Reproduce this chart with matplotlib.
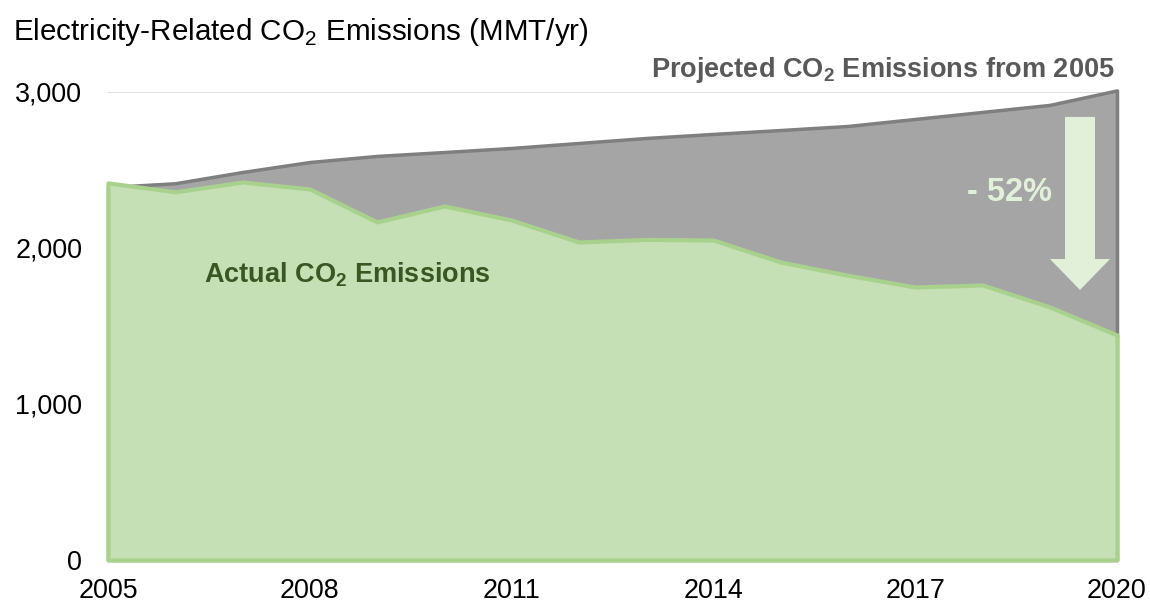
import matplotlib
matplotlib.use("Agg")
import matplotlib.pyplot as plt

plt.rcParams['font.family'] = ['Liberation Sans', 'DejaVu Sans']
plt.rcParams['mathtext.fontset'] = 'custom'
plt.rcParams['mathtext.rm'] = 'Liberation Sans'
plt.rcParams['mathtext.bf'] = 'Liberation Sans:bold'

# Data (MMT CO2 per year)
years = list(range(2005, 2021))
actual = [2417, 2360, 2423, 2378, 2167, 2269, 2179, 2038, 2055, 2051,
          1910, 1825, 1750, 1763, 1622, 1442]
projected = [2390, 2415, 2487, 2551, 2590, 2615, 2641, 2673, 2705, 2731,
             2756, 2782, 2827, 2872, 2917, 3010]
yticks = [0, 1000, 2000, 3000]
xticks = [2005, 2008, 2011, 2014, 2017, 2020]

fig = plt.figure(figsize=(11.5, 6.05), dpi=100)
ax = fig.add_axes([0.0939, 0.0744, 0.8774, 0.7736])

# projected area (grey) behind actual area (green)
ax.fill_between(years, 0, projected, facecolor='#A5A5A5', edgecolor='#7F7F7F',
                linewidth=2.5, zorder=2, clip_on=False)
ax.fill_between(years, 0, actual, facecolor='#C5E0B4', edgecolor='#A9D18E',
                linewidth=3, zorder=3, clip_on=False)

ax.set_xlim(2005, 2020)
ax.set_ylim(0, 3000)
ax.set_xticks(xticks)
ax.set_yticks(yticks)
ax.set_yticklabels([f'{v:,}' for v in yticks])
ax.tick_params(axis='both', length=0, labelsize=19.4, colors='black')
ax.tick_params(axis='x', pad=13)
ax.tick_params(axis='y', pad=18.5)
ax.grid(axis='y', color='#D9D9D9', linewidth=1.2, zorder=1)
ax.set_axisbelow(True)
for s in ax.spines.values():
    s.set_visible(False)

fig.text(0.011, 1 - 40 / 605, r'Electricity-Related CO$_2$ Emissions (MMT/yr)',
         fontsize=21.3, color='black', va='baseline', ha='left')

ax.text(2020 - 0.03, 3096, r'Projected CO$_\mathbf{2}$ Emissions from 2005',
        fontsize=19.5, fontweight='bold', color='#595959', ha='right', va='baseline')
ax.text(2006.43, 1776, r'Actual CO$_\mathbf{2}$ Emissions',
        fontsize=19.5, fontweight='bold', color='#385723', ha='left', va='baseline', zorder=5)

# -52% arrow (block arrow pointing down)
x0 = 2019.45
sw = 15 / 67.27  # half shaft width in years
hw = 30 / 67.27  # half head width in years
poly_x = [x0 - sw, x0 + sw, x0 + sw, x0 + hw, x0, x0 - hw, x0 - sw]
poly_y = [2840, 2840, 1929, 1929, 1731, 1929, 1929]
ax.fill(poly_x, poly_y, color='#E2F0D9', zorder=6, linewidth=0)
ax.text(2018.4, 2301, '- 52%', fontsize=23.5, fontweight='bold', color='#E2F0D9',
        ha='center', va='baseline', zorder=6)

fig.savefig('out.png', dpi=100)
